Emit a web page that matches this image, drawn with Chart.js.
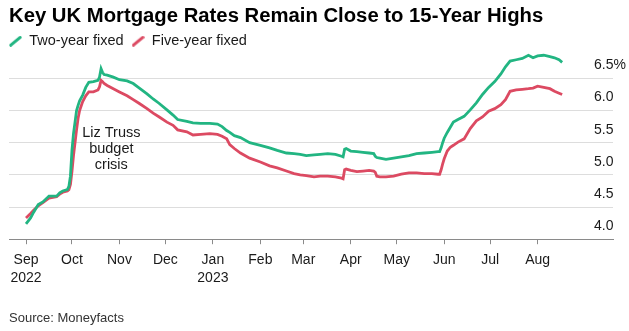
<!DOCTYPE html>
<html><head><meta charset="utf-8">
<script src="https://cdn.jsdelivr.net/npm/chart.js@4.4.0/dist/chart.umd.min.js"></script>
<style>html,body{margin:0;padding:0;background:#fff;}#wrap{width:629px;height:331px;}</style>
</head><body><div id="wrap"><canvas id="c" width="629" height="331"></canvas></div>
<script>
// Days since 1 Sep 2022
const days = [
  0, 3, 5, 8, 11, 15, 20, 22, 24, 27,
  28, 29, 30, 31, 32, 33, 34, 35, 37, 39,
  41, 44, 47, 48, 49, 50, 51, 53, 57, 61,
  66, 70, 74, 79, 83, 87, 92, 96, 99, 105,
  109, 114, 120, 125, 128, 131, 133, 136, 140, 146,
  153, 159, 164, 170, 175, 179, 183, 188, 192, 197,
  202, 206, 207, 208, 209, 212, 216, 220, 224, 227,
  228, 229, 231, 235, 240, 245, 250, 255, 260, 265,
  269, 270, 271, 272, 273, 275, 277, 279, 282, 286,
  290, 294, 298, 302, 306, 310, 313, 316, 320, 324,
  328, 331, 334, 338, 342, 345, 348, 350
];
const twoYearFixed = [
  4.24, 4.33, 4.42, 4.54, 4.58, 4.67, 4.67, 4.72, 4.75, 4.77,
  4.82, 4.98, 5.38, 5.64, 5.82, 6.00, 6.08, 6.15, 6.24, 6.36,
  6.44, 6.45, 6.47, 6.52, 6.65, 6.59, 6.56, 6.55, 6.52, 6.48,
  6.46, 6.42, 6.35, 6.26, 6.18, 6.11, 6.01, 5.93, 5.86, 5.83,
  5.81, 5.80, 5.80, 5.79, 5.75, 5.69, 5.66, 5.61, 5.58, 5.50,
  5.46, 5.42, 5.38, 5.34, 5.33, 5.32, 5.30, 5.31, 5.32, 5.33,
  5.32, 5.29, 5.28, 5.40, 5.41, 5.37, 5.36, 5.35, 5.34, 5.33,
  5.29, 5.27, 5.26, 5.24, 5.26, 5.28, 5.30, 5.33, 5.34, 5.35,
  5.36, 5.36, 5.42, 5.50, 5.57, 5.66, 5.74, 5.82, 5.86, 5.91,
  6.01, 6.12, 6.25, 6.36, 6.45, 6.57, 6.68, 6.77, 6.79, 6.81,
  6.86, 6.82, 6.85, 6.86, 6.84, 6.82, 6.79, 6.75
];
const fiveYearFixed = [
  4.33, 4.40, 4.45, 4.52, 4.57, 4.64, 4.66, 4.70, 4.73, 4.75,
  4.77, 4.85, 5.05, 5.30, 5.50, 5.70, 5.88, 6.00, 6.14, 6.23,
  6.29, 6.29, 6.32, 6.37, 6.47, 6.45, 6.42, 6.39, 6.34, 6.29,
  6.23, 6.17, 6.11, 6.03, 5.96, 5.90, 5.82, 5.77, 5.70, 5.67,
  5.62, 5.63, 5.64, 5.63, 5.60, 5.56, 5.47, 5.41, 5.34, 5.26,
  5.20, 5.14, 5.11, 5.06, 5.02, 5.00, 4.99, 4.97, 4.98, 4.98,
  4.97, 4.95, 4.94, 5.08, 5.09, 5.07, 5.05, 5.06, 5.07, 5.06,
  5.04, 4.98, 4.97, 4.97, 4.98, 5.01, 5.03, 5.03, 5.02, 5.02,
  5.01, 5.01, 5.08, 5.17, 5.25, 5.37, 5.43, 5.46, 5.51, 5.56,
  5.72, 5.84, 5.90, 5.99, 6.03, 6.09, 6.17, 6.30, 6.32, 6.33,
  6.34, 6.35, 6.38, 6.36, 6.34, 6.30, 6.27, 6.25
];
const seriesNames = ['Two-year fixed', 'Five-year fixed'];
const monthTickDays = [0, 30, 61, 91, 122, 153, 181, 212, 242, 273, 303, 334];
const monthTickLabels = [['Sep', '2022'], 'Oct', 'Nov', 'Dec', ['Jan', '2023'], 'Feb', 'Mar', 'Apr', 'May', 'Jun', 'Jul', 'Aug'];
const yTickValues = [4.0, 4.5, 5.0, 5.5, 6.0, 6.5];
const annotationLines = ['Liz Truss', 'budget', 'crisis'];
const annotationAt = { day: 55.7, value: 5.40 };

const FONT = '"Liberation Sans", Arial, sans-serif';
const GREEN = '#22b582';
const RED = '#dc4a62';
const AXIS = '#8a8a8a';
const GRID = '#dddddd';

function slashMarker(color) {
  const c = document.createElement('canvas');
  c.width = 13; c.height = 11;
  const g = c.getContext('2d');
  g.strokeStyle = color; g.lineWidth = 3; g.lineCap = 'round';
  g.beginPath(); g.moveTo(1.8, 9.4); g.lineTo(11.2, 1.6); g.stroke();
  return c;
}
const markers = [slashMarker(GREEN), slashMarker(RED)];

const trussNote = {
  id: 'trussNote',
  afterDatasetsDraw(chart) {
    const { ctx, scales: { x, y } } = chart;
    const cx = x.getPixelForValue(annotationAt.day);
    const cy = y.getPixelForValue(annotationAt.value);
    ctx.save();
    ctx.font = '14.5px ' + FONT;
    ctx.fillStyle = '#1a1a1a';
    ctx.textAlign = 'center';
    ctx.textBaseline = 'middle';
    annotationLines.forEach((t, i) => ctx.fillText(t, cx, cy + (i - 1) * 16));
    ctx.restore();
  }
};

new Chart(document.getElementById('c'), {
  type: 'line',
  data: {
    datasets: [
      { label: seriesNames[0], data: days.map((d, i) => ({ x: d, y: twoYearFixed[i] })), borderColor: GREEN, borderWidth: 2.8, pointRadius: 0, tension: 0, clip: false },
      { label: seriesNames[1], data: days.map((d, i) => ({ x: d, y: fiveYearFixed[i] })), borderColor: RED, borderWidth: 2.8, pointRadius: 0, tension: 0, clip: false }
    ]
  },
  options: {
    responsive: false,
    animation: false,
    devicePixelRatio: 1,
    layout: { padding: { left: 9, right: 16, top: 0, bottom: 0 } },
    plugins: {
      tooltip: { enabled: false },
      title: {
        display: true, align: 'start', text: 'Key UK Mortgage Rates Remain Close to 15-Year Highs',
        color: '#000', font: { family: FONT, size: 20.3, weight: 'bold', lineHeight: 1.2 },
        padding: { top: 4, bottom: 5.6 }
      },
      subtitle: {
        display: true, position: 'bottom', align: 'start', text: 'Source: Moneyfacts',
        color: '#333', font: { family: FONT, size: 13, lineHeight: 1.2 },
        padding: { top: 17.0, bottom: 4.8 }
      },
      legend: {
        position: 'top', align: 'start',
        labels: {
          usePointStyle: true, boxWidth: 13, padding: 0,
          color: '#1a1a1a', font: { family: FONT, size: 14.5 },
          generateLabels: (chart) => chart.data.datasets.map((ds, i) => ({
            text: ds.label + '  ', fillStyle: ds.borderColor, strokeStyle: ds.borderColor,
            lineWidth: 0, pointStyle: markers[i], hidden: false, datasetIndex: i, fontColor: '#1a1a1a'
          }))
        }
      }
    },
    scales: {
      x: {
        type: 'linear', min: -11.1, max: 383.2,
        afterBuildTicks: (s) => { s.ticks = monthTickDays.map(v => ({ value: v })); },
        ticks: {
          autoSkip: false, maxRotation: 0, minRotation: 0, padding: 6.5,
          color: '#1a1a1a', font: { family: FONT, size: 14, lineHeight: 1.3 },
          callback: (v, i) => monthTickLabels[i]
        },
        grid: { display: true, drawOnChartArea: false, drawTicks: true, tickLength: 5, color: AXIS, tickColor: AXIS },
        border: { display: true, color: AXIS, width: 1 }
      },
      y: {
        position: 'right', min: 4.0, max: 6.81,
        afterBuildTicks: (s) => { s.ticks = yTickValues.map(v => ({ value: v })); },
        afterFit: (s) => { s.width = 0; },
        ticks: {
          mirror: true, crossAlign: 'far', padding: 12.9, labelOffset: -13, color: '#1a1a1a',
          font: { family: FONT, size: 14 },
          callback: (v, i, t) => (i === t.length - 1 ? v.toFixed(1) + '%' : v.toFixed(1))
        },
        grid: { drawTicks: false, color: (c) => (c.tick && c.tick.value === 4 ? AXIS : GRID), lineWidth: 1 },
        border: { display: false }
      }
    }
  },
  plugins: [trussNote]
});
</script>
</body></html>
